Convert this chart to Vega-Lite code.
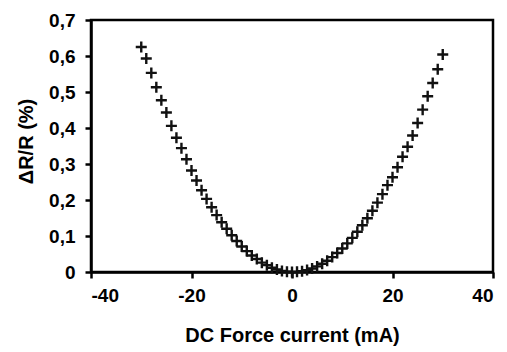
{
  "$schema": "https://vega.github.io/schema/vega-lite/v6.json",
  "autosize": "none",
  "width": 402,
  "height": 252,
  "padding": {"left": 91, "top": 20, "right": 14, "bottom": 80},
  "background": "white",
  "config": {
    "view": {"stroke": "#000000", "strokeWidth": 2.5, "strokeOpacity": 1},
    "font": "Liberation Sans",
    "axis": {
      "domainColor": "#000000", "domainWidth": 2.5, "domainOpacity": 1,
      "tickColor": "#000000", "tickWidth": 2.5, "tickSize": 6, "tickOpacity": 1,
      "labelColor": "black", "labelFont": "Liberation Sans", "labelFontWeight": "bold", "labelFontSize": 19,
      "titleColor": "black", "titleFont": "Liberation Sans", "titleFontWeight": "bold", "titleFontSize": 20,
      "grid": false
    }
  },
  "data": {"values": [
    {"I": -30, "dR": 0.625}, {"I": -29, "dR": 0.593}, {"I": -28, "dR": 0.553}, {"I": -27, "dR": 0.513},
    {"I": -26, "dR": 0.477}, {"I": -25, "dR": 0.443}, {"I": -24, "dR": 0.406}, {"I": -23, "dR": 0.373},
    {"I": -22, "dR": 0.344}, {"I": -21, "dR": 0.313}, {"I": -20, "dR": 0.282}, {"I": -19, "dR": 0.254},
    {"I": -18, "dR": 0.227}, {"I": -17, "dR": 0.203}, {"I": -16, "dR": 0.180}, {"I": -15, "dR": 0.158},
    {"I": -14, "dR": 0.138}, {"I": -13, "dR": 0.120}, {"I": -12, "dR": 0.102}, {"I": -11, "dR": 0.086},
    {"I": -10, "dR": 0.071}, {"I": -9, "dR": 0.058}, {"I": -8, "dR": 0.046}, {"I": -7, "dR": 0.036},
    {"I": -6, "dR": 0.026}, {"I": -5, "dR": 0.019}, {"I": -4, "dR": 0.012}, {"I": -3, "dR": 0.007},
    {"I": -2, "dR": 0.003}, {"I": -1, "dR": 0.001}, {"I": 0, "dR": 0.0},
    {"I": 1, "dR": 0.0004}, {"I": 2, "dR": 0.0021}, {"I": 3, "dR": 0.0053}, {"I": 4, "dR": 0.0097},
    {"I": 5, "dR": 0.0156}, {"I": 6, "dR": 0.0228}, {"I": 7, "dR": 0.0314}, {"I": 8, "dR": 0.0414},
    {"I": 9, "dR": 0.0527}, {"I": 10, "dR": 0.0654}, {"I": 11, "dR": 0.0795}, {"I": 12, "dR": 0.0949},
    {"I": 13, "dR": 0.1117}, {"I": 14, "dR": 0.1299}, {"I": 15, "dR": 0.1494}, {"I": 16, "dR": 0.1703},
    {"I": 17, "dR": 0.1926}, {"I": 18, "dR": 0.2162}, {"I": 19, "dR": 0.2412}, {"I": 20, "dR": 0.263},
    {"I": 21, "dR": 0.291}, {"I": 22, "dR": 0.320}, {"I": 23, "dR": 0.348}, {"I": 24, "dR": 0.379},
    {"I": 25, "dR": 0.414}, {"I": 26, "dR": 0.451}, {"I": 27, "dR": 0.488}, {"I": 28, "dR": 0.525},
    {"I": 29, "dR": 0.563}, {"I": 30, "dR": 0.604}
  ]},
  "mark": {"type": "point", "shape": "M-1,0H1M0,-1V1", "size": 121, "filled": false, "stroke": "#111111", "strokeWidth": 2.4, "opacity": 1, "clip": false},
  "encoding": {
    "x": {
      "field": "I", "type": "quantitative",
      "scale": {"domain": [-40, 40], "nice": false, "zero": false},
      "axis": {
        "values": [-40, -20, 0, 20, 40],
        "title": "DC Force current (mA)",
        "labelExpr": "'' + datum.value",
        "labelPadding": 8,
        "titleX": 201, "titleY": 63, "titleBaseline": "middle", "titleAlign": "center"
      }
    },
    "y": {
      "field": "dR", "type": "quantitative",
      "scale": {"domain": [0, 0.7], "nice": false},
      "axis": {
        "values": [0, 0.1, 0.2, 0.3, 0.4, 0.5, 0.6, 0.7],
        "title": "ΔR/R (%)",
        "labelExpr": "datum.value == 0 ? '0' : replace(format(datum.value, '.1f'), '.', ',')",
        "labelPadding": 10,
        "titleAngle": -90,
        "titleX": -65, "titleY": 121, "titleBaseline": "middle", "titleAlign": "center"
      }
    }
  }
}
